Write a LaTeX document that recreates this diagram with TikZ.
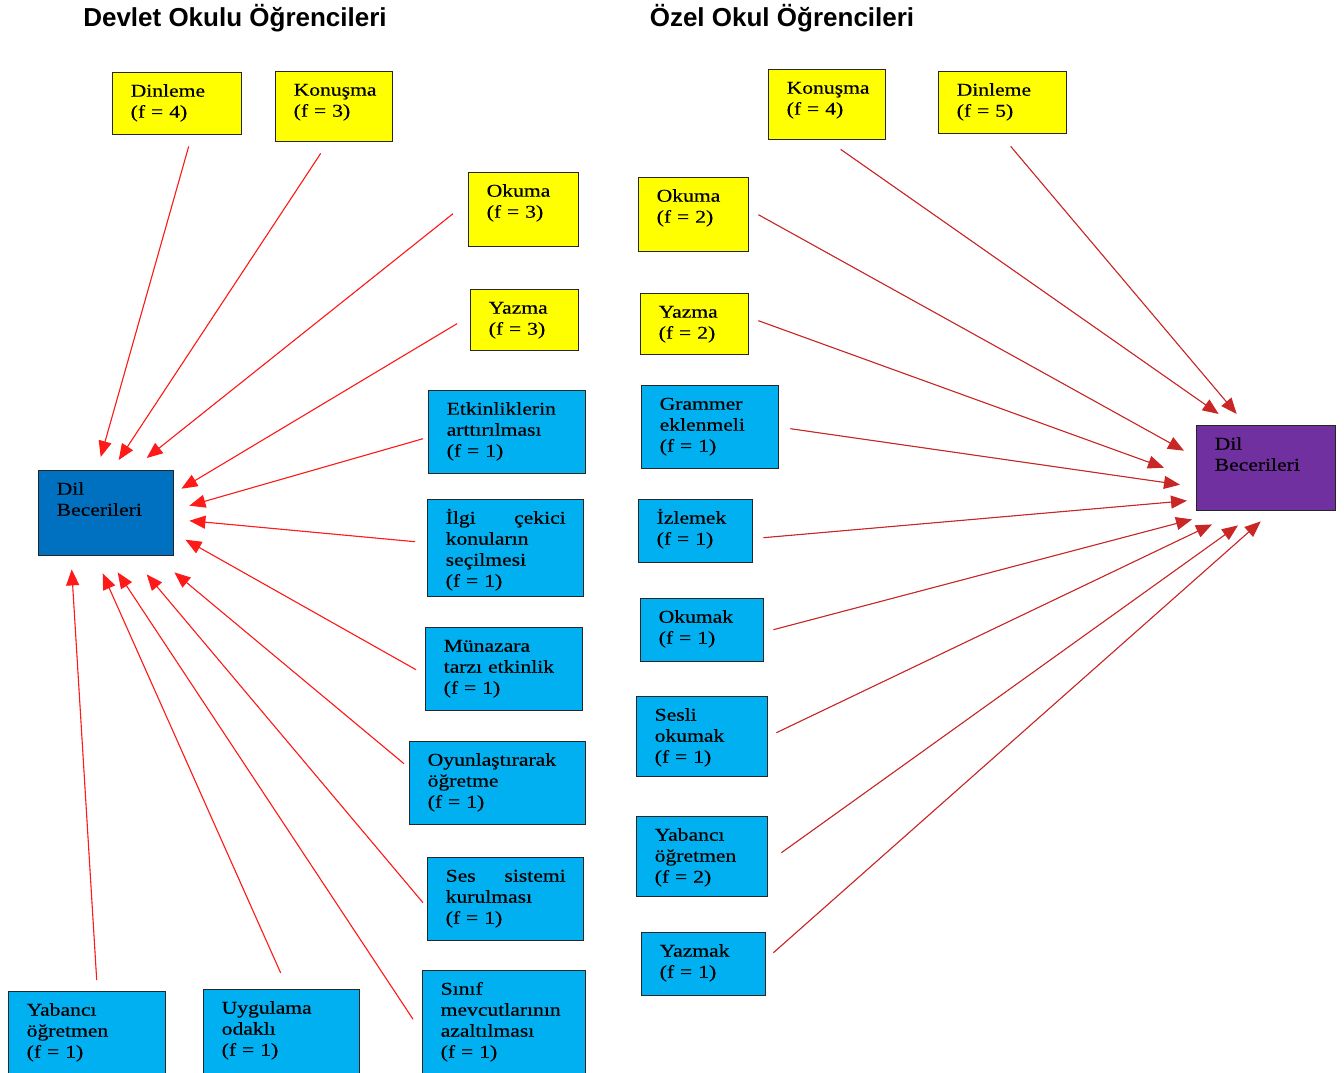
\documentclass[tikz,border=0pt]{standalone}
\usepackage{fontspec}
\setmainfont{Liberation Serif}[FakeStretch=1.2,FakeBold=0.5]
\setsansfont{Liberation Sans}
\usepackage{tikz}
\usetikzlibrary{arrows.meta}
\definecolor{boxyel}{HTML}{FFFF00}
\definecolor{boxcyan}{HTML}{00B0F0}
\definecolor{hubblue}{HTML}{0070C0}
\definecolor{hubpurple}{HTML}{7030A0}
\definecolor{edge}{HTML}{262626}
\definecolor{linkred}{HTML}{FF1A1A}
\definecolor{linkdark}{HTML}{C00000}

\begin{document}
\begin{tikzpicture}[
  x=1pt, y=-1pt,
  cell/.style={draw=edge, line width=1.4pt, anchor=north west, align=left, inner xsep=18pt, inner ysep=0pt, text height=24pt, font=\fontsize{18}{21}\selectfont},
  sz/.style 2 args={text width=#1pt-36pt, text depth=#2pt-24pt},
  yel/.style={cell, fill=boxyel},
  cyn/.style={cell, fill=boxcyan},
  title/.style={font=\sffamily\bfseries\fontsize{26}{30}\selectfont},
  arL/.style={-{Triangle[length=16pt,width=13pt]}, line width=1.1pt, draw=linkred, fill=red},
  arR/.style={-{Triangle[length=16pt,width=13pt]}, line width=1.1pt, draw=linkdark!85!white, fill=linkdark}
]
\useasboundingbox (0,0) rectangle (1344,1073);

\node[title] (titL) at (235,18) {Devlet Okulu Öğrencileri};
\node[title] (titR) at (782,18) {Özel Okul Öğrencileri};

% devlet okulu
\node[cell, fill=hubblue, sz={135}{85}] (hubL) at (38,470) {Dil\\Becerileri};
\node[yel, sz={129}{62}] (dinL) at (112,72) {Dinleme\\(f = 4)};
\node[yel, sz={117}{70}] (konL) at (275,71) {Konuşma\\(f = 3)};
\node[yel, sz={110}{74}] (okuL) at (468,172) {Okuma\\(f = 3)};
\node[yel, sz={108}{61}] (yazL) at (470,289) {Yazma\\(f = 3)};
\node[cyn, sz={157}{83}] (etkL) at (428,390) {Etkinliklerin\\arttırılması\\(f = 1)};
\node[cyn, sz={156}{97}] (ilgiL) at (427,499) {İlgi\hfill çekici\\konuların\\seçilmesi\\(f = 1)};
\node[cyn, sz={157}{83}] (munL) at (425,627) {Münazara\\tarzı etkinlik\\(f = 1)};
\node[cyn, sz={176}{83}] (oyunL) at (409,741) {Oyunlaştırarak\\öğretme\\(f = 1)};
\node[cyn, sz={156}{83}] (sesL) at (427,857) {Ses\hfill sistemi\\kurulması\\(f = 1)};
\node[cyn, sz={163}{110}] (sinL) at (422,970) {Sınıf\\mevcutlarının\\azaltılması\\(f = 1)};
\node[cyn, sz={157}{95}] (yabL) at (8,991) {Yabancı\\öğretmen\\(f = 1)};
\node[cyn, sz={156}{95}] (uygL) at (203,989) {Uygulama\\odaklı\\(f = 1)};

\draw[arL] ([shift={(11.5,11)}]dinL.south) -- ([shift={(-5.5,-13)}]hubL.north);
\draw[arL] ([shift={(-13.5,11)}]konL.south) -- ([shift={(12.5,-10)}]hubL.north);
\draw[arL] ([shift={(-15,4)}]okuL.west) -- ([shift={(40.5,-12)}]hubL.north);
\draw[arL] ([shift={(-13,3.5)}]yazL.west) -- ([shift={(7,-24.5)}]hubL.east);
\draw[arL] ([shift={(-5,6.5)}]etkL.west) -- ([shift={(15,-7.5)}]hubL.east);
\draw[arL] ([shift={(-12,-6.5)}]ilgiL.west) -- ([shift={(15,7.5)}]hubL.east);
\draw[arL] ([shift={(-9,0.5)}]munL.west) -- ([shift={(11,26.5)}]hubL.east);
\draw[arL] ([shift={(-5,-19.5)}]oyunL.west) -- ([shift={(0,16)}]hubL.south east);
\draw[arL] ([shift={(-4,3.5)}]sesL.west) -- ([shift={(40.5,18)}]hubL.south);
\draw[arL] ([shift={(-9,-6.5)}]sinL.west) -- ([shift={(11.5,16)}]hubL.south);
\draw[arL] ([shift={(-1,-16)}]uygL.north) -- ([shift={(-3.5,17)}]hubL.south);
\draw[arL] ([shift={(9.5,-11)}]yabL.north) -- ([shift={(-34.5,13)}]hubL.south);

% ozel okul
\node[cell, fill=hubpurple, sz={139}{85}] (hubR) at (1196,425) {Dil\\Becerileri};
\node[yel, sz={117}{70}] (konR) at (768,69) {Konuşma\\(f = 4)};
\node[yel, sz={128}{62}] (dinR) at (938,71) {Dinleme\\(f = 5)};
\node[yel, sz={110}{74}] (okuR) at (638,177) {Okuma\\(f = 2)};
\node[yel, sz={108}{61}] (yazR) at (640,293) {Yazma\\(f = 2)};
\node[cyn, sz={137}{83}] (gramR) at (641,385) {Grammer\\eklenmeli\\(f = 1)};
\node[cyn, sz={114}{63}] (izlR) at (638,499) {İzlemek\\(f = 1)};
\node[cyn, sz={123}{63}] (okmR) at (640,598) {Okumak\\(f = 1)};
\node[cyn, sz={131}{80}] (sesR) at (636,696) {Sesli\\okumak\\(f = 1)};
\node[cyn, sz={131}{80}] (yabR) at (636,816) {Yabancı\\öğretmen\\(f = 2)};
\node[cyn, sz={124}{63}] (yzkR) at (641,932) {Yazmak\\(f = 1)};

\draw[arR] ([shift={(13.5,9)}]konR.south) -- ([shift={(-47.5,-11)}]hubR.north);
\draw[arR] ([shift={(8,12)}]dinR.south) -- ([shift={(-29.5,-11)}]hubR.north);
\draw[arR] ([shift={(9,0)}]okuR.east) -- ([shift={(-12,-17.5)}]hubR.west);
\draw[arR] ([shift={(9,-3.5)}]yazR.east) -- ([shift={(-32,-0.5)}]hubR.west);
\draw[arR] ([shift={(11,1.5)}]gramR.east) -- ([shift={(-16,16.5)}]hubR.west);
\draw[arR] ([shift={(10,6.5)}]izlR.east) -- ([shift={(-9,32.5)}]hubR.west);
\draw[arR] ([shift={(9,-0.5)}]okmR.east) -- ([shift={(-4,8)}]hubR.south west);
\draw[arR] ([shift={(8,-4)}]sesR.east) -- ([shift={(16,13)}]hubR.south west);
\draw[arR] ([shift={(13,-4)}]yabR.east) -- ([shift={(42,14)}]hubR.south west);
\draw[arR] ([shift={(7,-11.5)}]yzkR.east) -- ([shift={(-5.5,10)}]hubR.south);
\end{tikzpicture}
\end{document}
